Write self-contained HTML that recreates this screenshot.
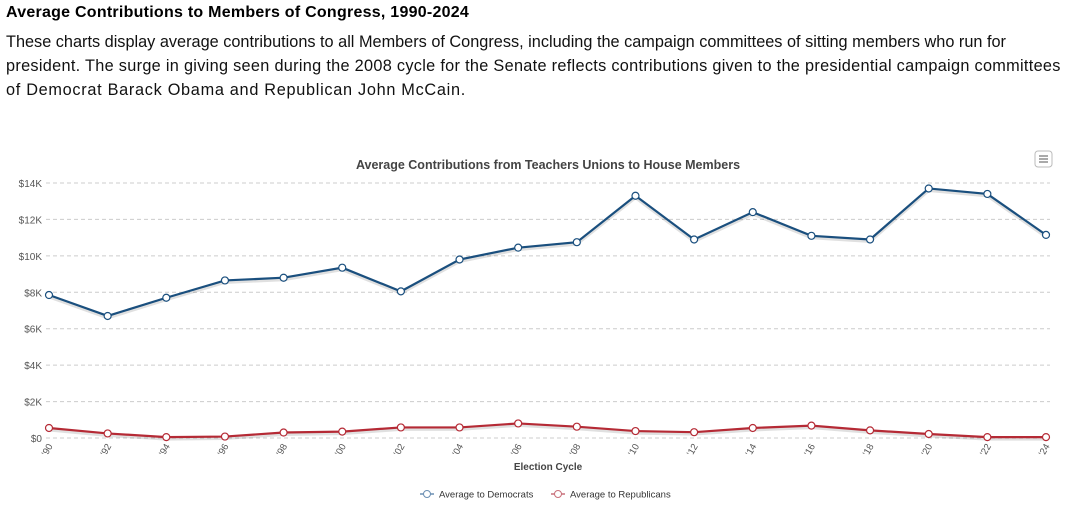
<!DOCTYPE html>
<html><head><meta charset="utf-8"><style>
body{margin:0;width:1074px;height:506px;background:#fff;font-family:"Liberation Sans",sans-serif;overflow:hidden;position:relative}
h1{position:absolute;left:6px;top:4px;margin:0;font-size:16px;font-weight:bold;color:#000;letter-spacing:0.25px}
p{position:absolute;left:6px;top:30px;margin:0;width:1074px;white-space:nowrap;font-size:16.3px;line-height:24px;color:#111}
svg{position:absolute;left:0;top:0}
</style></head><body>
<h1>Average Contributions to Members of Congress, 1990-2024</h1>
<p>These charts display average contributions to all Members of Congress, including the campaign committees of sitting members who run for<br><span style="letter-spacing:0.3px">president. The surge in giving seen during the 2008 cycle for the Senate reflects contributions given to the presidential campaign committees</span><br><span style="letter-spacing:0.7px">of Democrat Barack Obama and Republican John McCain.</span></p>
<svg id="chart" width="1074" height="506" font-family="Liberation Sans, sans-serif">
<text x="548" y="169" text-anchor="middle" font-size="12.5" font-weight="bold" fill="#444">Average Contributions from Teachers Unions to House Members</text>
<g><rect x="1035" y="151" width="17" height="16" rx="3" fill="#fff" stroke="#bbb"/><path d="M1039 156h9M1039 159h9M1039 162h9" stroke="#777" stroke-width="1.2"/></g>
<text x="548" y="470" text-anchor="middle" font-size="10" font-weight="bold" fill="#444">Election Cycle</text>
</svg>
<script>
const cycles=["'90","'92","'94","'96","'98","'00","'02","'04","'06","'08","'10","'12","'14","'16","'18","'20","'22","'24"];
const dems=[7850,6700,7700,8650,8800,9350,8050,9800,10450,10750,13300,10900,12400,11100,10900,13700,13400,11150];
const reps=[550,250,50,80,300,350,580,580,800,620,380,320,550,680,420,220,50,50];
const yTicks=[0,2000,4000,6000,8000,10000,12000,14000];
const yLabels=["$0","$2K","$4K","$6K","$8K","$10K","$12K","$14K"];
const svg=document.getElementById('chart');const NS='http://www.w3.org/2000/svg';
const x0=49,x1=1046,yb=438,yt=183,ymax=14000;
const X=i=>x0+i*(x1-x0)/(cycles.length-1);
const Y=v=>yb-v/ymax*(yb-yt);
function mk(t,a){const e=document.createElementNS(NS,t);for(const k in a)e.setAttribute(k,a[k]);svg.appendChild(e);return e;}
yTicks.forEach((v,i)=>{
 const l=mk('line',{x1:46,x2:1050,y1:Y(v),y2:Y(v),stroke:'#ccc','stroke-dasharray':'4,3'});
 
 
 const t=mk('text',{x:42,y:Y(v)+4,'text-anchor':'end','font-size':'10',fill:'#555'});t.textContent=yLabels[i];
 
 
});
cycles.forEach((c,i)=>{
 const t=mk('text',{x:X(i)+4,y:446,'text-anchor':'end','font-size':'9.5',fill:'#555',transform:`rotate(-60 ${X(i)+4} 446)`});t.textContent=c;
 
 
});
function series(vals,col,name){
 const pts=vals.map((v,i)=>X(i)+','+Y(v)).join(' ');
 const sh=mk('polyline',{points:vals.map((v,i)=>X(i)+','+(Y(v)+2)).join(' '),fill:'none',stroke:'#000','stroke-opacity':'0.12','stroke-width':'3'});
 
 
 const p=mk('polyline',{points:pts,fill:'none',stroke:col,'stroke-width':'2.2'});
 
 
 vals.forEach((v,i)=>{const c=mk('circle',{cx:X(i),cy:Y(v),r:3.5,fill:'#fff',stroke:col,'stroke-width':'1.2'});
  
  });
}
series(dems,'#1a4f7e','democrats');
series(reps,'#b52a35','republicans');
function legend(x,col,label,name){
 const g=document.createElementNS(NS,'g');svg.appendChild(g);
 
 
 g.innerHTML=`<line x1="${x}" x2="${x+14}" y1="494" y2="494" stroke="${col}" stroke-width="1.5"/><circle cx="${x+7}" cy="494" r="3.5" fill="#fff" stroke="${col}"/><text x="${x+19}" y="497.5" font-size="9.5" fill="#333">${label}</text>`;
}
legend(420,'#6b8fb3','Average to Democrats','legend-democrats');
legend(551,'#c9707a','Average to Republicans','legend-republicans');
</script>
</body></html>
